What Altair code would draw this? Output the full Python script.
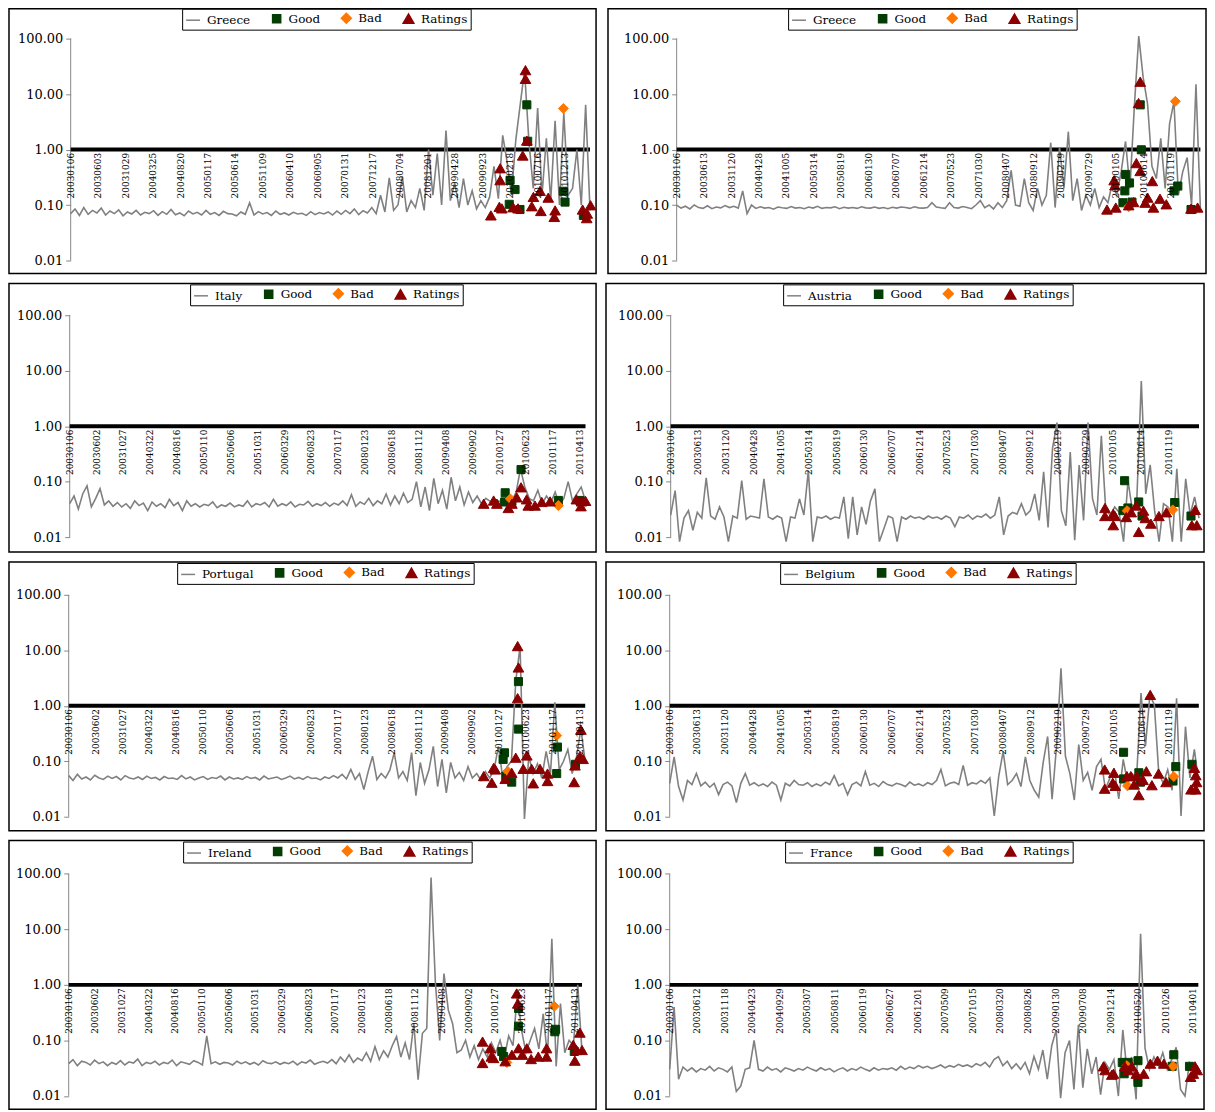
import altair as alt
import numpy as np
import pandas as pd

# ---------------- tick labels (dates) ----------------
LBL_GR1 = ["20030106","20030603","20031029","20040325","20040820","20050117","20050614",
           "20051109","20060410","20060905","20070131","20071217","20080704","20081201",
           "20090428","20090923","20100218","20100716","20101213"]
LBL_B = ["20030106","20030613","20031120","20040428","20041005","20050314","20050819",
         "20060130","20060707","20061214","20070523","20071030","20080407","20080912",
         "20090219","20090729","20100105","20100614","20101119"]
LBL_C = ["20030106","20030602","20031027","20040322","20040816","20050110","20050606",
         "20051031","20060329","20060823","20070117","20080123","20080618","20081112",
         "20090408","20090902","20100127","20100623","20101117","20110413"]
LBL_FR = ["20030106","20030612","20031118","20040423","20040929","20050307","20050811",
          "20060119","20060627","20061201","20070509","20071015","20080320","20080826",
          "20090130","20090708","20091214","20100520","20101026","20110401"]

# ---------------- series values ----------------
GR1_SERIES = [
0.07,0.085,0.065,0.09,0.068,0.08,0.072,0.088,0.066,0.078,
0.07,0.082,0.064,0.075,0.069,0.08,0.066,0.074,0.07,0.079,
0.065,0.076,0.068,0.083,0.067,0.072,0.064,0.078,0.069,0.074,
0.066,0.08,0.068,0.073,0.065,0.077,0.07,0.069,0.064,0.075,
0.068,0.11,0.066,0.076,0.069,0.073,0.065,0.078,0.068,0.072,
0.066,0.074,0.069,0.071,0.065,0.076,0.067,0.073,0.069,0.075,
0.066,0.078,0.068,0.08,0.07,0.085,0.067,0.079,0.072,0.09,
0.07,0.15,0.075,0.31,0.08,0.1,0.33,0.075,0.12,0.09,
0.2,0.08,1.0,0.15,0.85,0.1,2.2,0.12,0.25,0.09,
0.3,0.1,0.18,0.085,0.12,0.09,0.14,0.5,0.13,1.8,
0.6,0.15,1.5,6.4,27,1.4,0.2,5.6,0.15,1.6,
0.12,3.3,0.1,4.6,0.15,0.2,1.0,0.1,6.4,0.08]

GR2_SERIES = [
0.1,0.088,0.095,0.085,0.1,0.09,0.087,0.097,0.086,0.092,
0.089,0.098,0.09,0.095,0.088,0.18,0.07,0.1,0.087,0.093,
0.088,0.09,0.084,0.092,0.089,0.087,0.094,0.088,0.09,0.086,
0.092,0.088,0.095,0.087,0.09,0.089,0.093,0.086,0.091,0.088,
0.09,0.087,0.093,0.089,0.088,0.092,0.087,0.09,0.086,0.091,
0.088,0.092,0.09,0.087,0.093,0.089,0.088,0.09,0.11,0.092,
0.089,0.087,0.11,0.09,0.088,0.094,0.09,0.086,0.1,0.12,
0.09,0.1,0.085,0.11,0.09,0.12,0.42,0.1,0.095,0.3,
0.11,0.08,0.2,0.1,0.15,1.33,0.09,1.1,0.2,2.1,
0.12,0.3,0.08,0.15,0.1,0.2,0.09,0.14,0.11,0.25,
0.15,0.4,1.4,0.2,6,111,20,6.7,0.5,0.3,
1.6,0.2,2.9,7.3,0.15,0.4,0.72,0.1,15,0.09]

IT_SERIES = [
0.04,0.055,0.032,0.06,0.084,0.035,0.05,0.075,0.038,0.045,
0.036,0.042,0.035,0.04,0.033,0.045,0.037,0.041,0.03,0.043,
0.036,0.04,0.034,0.048,0.037,0.042,0.03,0.045,0.036,0.04,
0.035,0.039,0.037,0.043,0.034,0.038,0.036,0.041,0.035,0.038,
0.036,0.045,0.035,0.04,0.038,0.042,0.035,0.048,0.036,0.04,
0.037,0.043,0.035,0.039,0.038,0.044,0.036,0.04,0.037,0.042,
0.036,0.041,0.038,0.045,0.037,0.058,0.036,0.043,0.039,0.05,
0.037,0.045,0.04,0.06,0.038,0.055,0.04,0.062,0.042,0.048,
0.1,0.035,0.08,0.03,0.115,0.04,0.07,0.032,0.12,0.045,
0.08,0.038,0.065,0.042,0.055,0.04,0.05,0.044,0.048,0.045,
0.04,0.06,0.045,0.065,0.17,0.08,0.05,0.045,0.07,0.04,
0.055,0.042,0.065,0.038,0.05,0.1,0.045,0.06,0.08,0.045]

AT_SERIES = [
0.025,0.069,0.0083,0.022,0.03,0.0133,0.028,0.022,0.117,0.024,
0.021,0.035,0.023,0.0083,0.024,0.022,0.104,0.021,0.024,0.023,
0.022,0.112,0.023,0.021,0.024,0.022,0.0083,0.023,0.022,0.049,
0.025,0.158,0.0083,0.023,0.022,0.024,0.021,0.023,0.022,0.053,
0.0094,0.053,0.011,0.035,0.017,0.045,0.074,0.0083,0.014,0.024,
0.022,0.0083,0.023,0.021,0.024,0.022,0.023,0.021,0.024,0.022,
0.023,0.021,0.024,0.022,0.0154,0.023,0.022,0.025,0.021,0.024,
0.023,0.026,0.022,0.025,0.053,0.011,0.024,0.028,0.026,0.04,
0.025,0.03,0.06,0.02,0.15,0.015,0.4,1.16,0.03,0.016,
0.34,0.0088,0.2,0.02,1.16,0.05,0.025,0.67,0.03,0.025,
0.035,0.028,0.0083,0.104,0.03,0.05,6.5,0.06,0.2,0.03,
0.0083,0.04,0.035,0.0083,0.17,0.0083,0.112,0.025,0.053,0.022]

PT_SERIES = [
0.055,0.045,0.058,0.048,0.052,0.046,0.056,0.05,0.047,0.054,
0.049,0.053,0.046,0.055,0.05,0.048,0.052,0.047,0.054,0.049,
0.051,0.046,0.053,0.049,0.05,0.047,0.055,0.048,0.052,0.046,
0.05,0.053,0.047,0.051,0.049,0.054,0.046,0.052,0.048,0.05,
0.047,0.053,0.049,0.051,0.046,0.054,0.048,0.05,0.052,0.047,
0.05,0.054,0.048,0.051,0.047,0.053,0.049,0.05,0.046,0.052,
0.049,0.055,0.05,0.058,0.048,0.071,0.047,0.06,0.031,0.065,
0.123,0.047,0.06,0.05,0.07,0.143,0.05,0.065,0.045,0.143,
0.024,0.095,0.04,0.07,0.186,0.035,0.108,0.027,0.095,0.05,
0.063,0.045,0.08,0.05,0.06,0.045,0.065,0.05,0.07,0.186,
0.05,0.08,0.1,2.8,11.9,0.0091,0.123,0.06,0.09,0.05,
0.15,0.06,1.15,0.07,0.1,0.163,0.06,0.12,0.38,0.1]

BE_SERIES = [
0.04,0.12,0.035,0.02,0.045,0.038,0.06,0.036,0.042,0.034,
0.04,0.025,0.038,0.042,0.036,0.018,0.04,0.06,0.037,0.041,
0.036,0.039,0.035,0.042,0.037,0.02,0.04,0.036,0.045,0.038,
0.037,0.041,0.035,0.039,0.036,0.042,0.038,0.055,0.036,0.04,
0.025,0.038,0.042,0.036,0.065,0.037,0.04,0.035,0.043,0.038,
0.036,0.04,0.038,0.035,0.042,0.037,0.039,0.036,0.041,0.038,
0.045,0.071,0.036,0.04,0.042,0.038,0.084,0.037,0.041,0.039,
0.045,0.04,0.05,0.0103,0.054,0.15,0.038,0.045,0.06,0.035,
0.12,0.045,0.03,0.0225,0.095,0.28,0.0206,0.186,4.75,0.123,
0.06,0.02,0.2,0.045,0.063,0.03,0.08,0.108,0.031,0.05,
0.07,0.021,0.108,0.04,0.06,0.05,1.69,0.186,1.57,1.04,
0.06,0.04,0.07,0.03,1.37,0.0103,0.42,0.05,0.163,0.04]

IE_SERIES = [
0.038,0.045,0.035,0.042,0.04,0.036,0.044,0.038,0.041,0.035,
0.04,0.037,0.043,0.036,0.041,0.039,0.046,0.035,0.04,0.038,
0.042,0.036,0.04,0.038,0.044,0.035,0.041,0.039,0.037,0.043,
0.04,0.036,0.12,0.038,0.041,0.037,0.04,0.039,0.036,0.042,
0.038,0.041,0.037,0.04,0.036,0.043,0.039,0.038,0.041,0.037,
0.04,0.038,0.042,0.036,0.041,0.039,0.044,0.037,0.04,0.042,
0.039,0.045,0.038,0.05,0.041,0.055,0.04,0.048,0.043,0.06,
0.042,0.077,0.045,0.065,0.05,0.08,0.117,0.05,0.09,0.045,
0.2,0.0195,0.134,0.164,86,1.13,0.1,1.6,0.35,0.2,
0.06,0.067,0.1,0.05,0.08,0.045,0.07,0.05,0.09,0.06,
0.1,0.05,0.12,0.08,0.7,0.15,0.06,0.1,0.164,0.07,
0.3,0.05,6.8,0.034,0.46,0.06,0.1,0.08,1.0,0.06]

FR_SERIES = [
0.03,0.4,0.02,0.033,0.028,0.032,0.027,0.031,0.029,0.034,
0.028,0.032,0.03,0.027,0.033,0.012,0.015,0.03,0.032,0.1,
0.03,0.028,0.033,0.029,0.031,0.027,0.032,0.03,0.028,0.031,
0.029,0.033,0.03,0.028,0.032,0.029,0.031,0.027,0.03,0.032,
0.028,0.031,0.029,0.033,0.03,0.028,0.032,0.029,0.031,0.03,
0.032,0.029,0.034,0.03,0.033,0.031,0.035,0.032,0.034,0.031,
0.033,0.036,0.032,0.035,0.033,0.037,0.034,0.036,0.033,0.038,
0.035,0.04,0.033,0.045,0.051,0.035,0.042,0.031,0.038,0.03,
0.04,0.025,0.051,0.03,0.067,0.02,0.08,0.154,0.0091,0.06,
0.099,0.013,0.19,0.014,0.07,0.025,0.05,0.0105,0.04,0.03,
0.045,0.0099,0.154,0.025,0.05,0.0086,8.3,0.072,0.03,0.05,
0.035,0.06,0.03,0.045,0.075,0.013,0.0099,0.04,0.035,0.03]

# ---------------- event markers: (position in label units, value) ----------------
GR1_GOOD = [(16.0,0.28),(16.18,0.19),(15.97,0.103),(16.36,0.083),(16.61,6.4),(16.64,1.41),
            (17.94,0.177),(18.0,0.113),(18.67,0.065)]
GR1_BAD = [(17.94,5.5)]
GR1_RAT = [(15.30,0.065),(15.64,0.46),(15.64,0.28),(15.61,0.093),(15.70,0.087),(16.11,0.091),
           (16.29,0.087),(16.46,0.78),(16.56,18.8),(16.56,27),(16.61,1.45),(16.85,0.14),
           (16.79,0.095),(17.09,0.18),(17.12,0.078),(17.39,0.136),(17.64,0.08),(17.61,0.061),
           (18.64,0.083),(18.81,0.07),(18.93,0.099),(18.79,0.058)]

GR2_GOOD = [(16.35,0.356),(16.49,0.25),(16.32,0.18),(16.25,0.11),(16.58,0.113),(16.88,6.4),
            (16.92,0.99),(18.11,0.18),(18.25,0.22),(18.73,0.083)]
GR2_BAD = [(18.16,7.4),(16.46,0.093)]
GR2_RAT = [(15.67,0.083),(15.99,0.09),(15.93,0.28),(15.96,0.227),(16.46,0.099),(16.64,0.113),
           (16.74,0.57),(16.88,0.41),(16.82,6.9),(16.88,16.7),(17.06,0.11),(17.15,0.136),
           (17.32,0.27),(17.36,0.09),(17.60,0.13),(17.83,0.103),(18.73,0.086),(18.97,0.09)]

IT_GOOD = [(16.21,0.063),(16.19,0.043),(16.80,0.165),(16.46,0.044),(18.19,0.0458),(18.99,0.0458)]
IT_BAD = [(16.40,0.049),(18.19,0.037)]
IT_RAT = [(15.41,0.04),(15.78,0.0457),(15.90,0.04),(16.33,0.0335),(16.46,0.04),(16.64,0.052),
          (16.80,0.079),(17.01,0.048),(17.07,0.037),(17.32,0.037),(17.57,0.043),(17.88,0.044),
          (18.86,0.048),(19.05,0.044),(19.20,0.045),(19.03,0.036)]

AT_GOOD = [(16.35,0.030),(16.41,0.104),(16.53,0.0335),(16.92,0.043),(17.04,0.024),(18.22,0.042),
           (18.81,0.024)]
AT_BAD = [(16.50,0.030),(18.15,0.031)]
AT_RAT = [(15.70,0.0335),(15.70,0.024),(16.0,0.0263),(16.06,0.024),(16.0,0.0164),(16.47,0.023),
          (16.65,0.028),(16.83,0.037),(16.92,0.0124),(17.09,0.030),(17.16,0.022),(17.36,0.0175),
          (17.65,0.024),(17.92,0.028),(18.96,0.031),(18.84,0.0164),(19.02,0.0164)]

PT_GOOD = [(16.19,0.142),(16.14,0.108),(16.24,0.054),(16.46,0.042),(16.71,2.73),(16.71,0.38),
           (18.16,0.18),(18.13,0.06),(18.83,0.088)]
PT_BAD = [(16.31,0.066),(18.13,0.29)]
PT_RAT = [(15.42,0.054),(15.72,0.041),(15.79,0.076),(15.85,0.071),(16.22,0.048),(16.46,0.062),
          (16.61,0.116),(16.68,1.37),(16.71,4.9),(16.68,11.9),(16.89,0.073),(17.02,0.127),
          (17.20,0.073),(17.26,0.04),(17.51,0.073),(17.79,0.06),(17.79,0.044),(18.81,0.084),
          (18.78,0.042),(19.03,0.37),(18.99,0.123),(19.11,0.11)]

BE_GOOD = [(16.35,0.145),(16.35,0.048),(16.90,0.062),(16.96,0.042),(18.23,0.08),(18.13,0.044),
           (18.81,0.088)]
BE_BAD = [(16.49,0.036),(18.16,0.053)]
BE_RAT = [(15.67,0.071),(15.67,0.032),(16.0,0.062),(15.96,0.041),(16.05,0.036),(16.47,0.054),
          (16.61,0.054),(16.73,0.038),(16.82,0.054),(16.90,0.0245),(17.05,0.046),(17.17,0.066),
          (17.31,1.57),(17.37,0.037),(17.61,0.06),(17.88,0.042),(18.90,0.076),(18.95,0.056),
          (18.98,0.042),(18.78,0.031),(18.95,0.031)]

IE_GOOD = [(16.24,0.063),(16.31,0.051),(16.87,0.376),(16.87,0.18),(18.26,0.158),(18.23,0.143),
           (18.96,0.063)]
IE_BAD = [(16.43,0.040),(18.21,0.41)]
IE_RAT = [(15.52,0.095),(15.52,0.039),(15.81,0.072),(15.85,0.051),(15.93,0.048),(16.37,0.042),
          (16.62,0.055),(16.80,0.70),(16.84,0.46),(16.87,0.072),(17.01,0.055),(17.18,0.072),
          (17.34,0.046),(17.61,0.051),(17.92,0.072),(17.92,0.051),(18.92,0.083),(18.98,0.043),
          (19.17,0.138),(19.25,0.067),(19.04,0.067)]

FR_GOOD = [(16.42,0.040),(16.49,0.025),(16.63,0.040),(16.99,0.043),(16.99,0.0175),(18.29,0.055),
           (18.23,0.034),(18.86,0.034)]
FR_BAD = [(16.59,0.035),(18.26,0.034)]
FR_RAT = [(15.74,0.034),(15.80,0.029),(16.10,0.025),(16.04,0.024),(16.51,0.034),(16.63,0.029),
          (16.77,0.034),(16.93,0.025),(17.20,0.025),(17.44,0.038),(17.70,0.043),(17.93,0.038),
          (18.90,0.022),(19.06,0.034),(19.14,0.029),(19.0,0.025)]

# ---------------- styling ----------------
LINE_C = "#808080"
GOOD_C = "#033d03"
BAD_C = "#ff7700"
RAT_C = "#8b0000"
FONT = "DejaVu Serif"
DECADE = 55.75  # pixels per decade on the log axis


def panel(name, series, labels, good, bad, rat, E, W, x0, step, legx, H, top, legy):
    n = len(series)
    line_df = pd.DataFrame({"pos": np.linspace(0, E, n), "val": series, "series": name})
    rows = []
    for kind, pts in (("Good", good), ("Bad", bad), ("Ratings", rat)):
        for p, v in pts:
            rows.append({"pos": p, "val": v, "series": kind})
    pts_df = pd.DataFrame(rows)
    lab_df = pd.DataFrame({"pos": list(range(len(labels))), "val": 0.87, "txt": labels})
    one_df = pd.DataFrame({"pos": [0.0], "pos2": [E], "val": [1.0]})
    yax_df = pd.DataFrame({"pos": [0.0], "val": [0.01], "val2": [100.0]})

    hi = 2 + top / DECADE
    lo = hi - H / DECADE
    dom = [name, "Good", "Bad", "Ratings"]
    xs = alt.Scale(domain=[-x0 / step, (W - x0) / step], nice=False, zero=False)
    ys = alt.Scale(type="log", domain=[10 ** lo, 10 ** hi], nice=False)
    yaxis = alt.Axis(values=[0.01, 0.1, 1, 10, 100], format=".2f", offset=-x0, domain=False,
                     grid=False, ticks=True, tickColor="#868686", tickSize=5, labelPadding=3,
                     labelFont=FONT, labelFontSize=13, labelColor="black", title=None,
                     labelFlush=False)
    leg = alt.Legend(orient="none", legendX=legx, legendY=legy, direction="horizontal",
                     title=None, strokeColor="black", fillColor="white", padding=3,
                     labelFont=FONT, labelFontSize=12, labelColor="black", columnPadding=18,
                     labelOffset=6, symbolStrokeWidth=1.5, cornerRadius=0)
    stroke_s = alt.Scale(domain=dom, range=[LINE_C, GOOD_C, BAD_C, RAT_C])
    fill_s = alt.Scale(domain=dom, range=[LINE_C, GOOD_C, BAD_C, RAT_C])
    shape_s = alt.Scale(domain=dom, range=["stroke", "square", "diamond", "triangle-up"])
    size_s = alt.Scale(type="ordinal", domain=dom, range=[196, 66, 100, 115])

    X = alt.X("pos:Q", scale=xs, axis=None)
    Y = alt.Y("val:Q", scale=ys, axis=yaxis)

    yline = alt.Chart(yax_df).mark_rule(color="#868686", strokeWidth=1).encode(
        x=X, y=Y, y2="val2:Q")
    one = alt.Chart(one_df).mark_rule(color="black", strokeWidth=4).encode(
        x=X, x2="pos2:Q", y=Y)
    line = alt.Chart(line_df).mark_line(strokeWidth=1.6).encode(
        x=X, y=Y, stroke=alt.Stroke("series:N", scale=stroke_s, legend=leg))
    pts = alt.Chart(pts_df).mark_point(filled=True, opacity=1, strokeWidth=1).encode(
        x=X, y=Y,
        fill=alt.Fill("series:N", scale=fill_s, legend=leg),
        stroke=alt.Stroke("series:N", scale=stroke_s, legend=leg),
        shape=alt.Shape("series:N", scale=shape_s, legend=leg),
        size=alt.Size("series:N", scale=size_s, legend=leg),
    )
    txt = alt.Chart(lab_df).mark_text(angle=270, align="right", baseline="middle", font=FONT,
                                      fontSize=9, color="black").encode(
        x=X, y=Y, text="txt:N")
    return alt.layer(yline, one, line, pts, txt).properties(width=W, height=H)


LW, RW = 590, 601
R1 = dict(H=266, top=30, legy=0)
R2 = dict(H=270, top=32, legy=1)
R3 = dict(H=270, top=33, legy=1)
R4 = dict(H=270, top=33.5, legy=1)
p1 = panel("Greece", GR1_SERIES, LBL_GR1, GR1_GOOD, GR1_BAD, GR1_RAT, 18.91, LW, 62, 27.6, 174, **R1)
p2 = panel("Greece", GR2_SERIES, LBL_B, GR2_GOOD, GR2_BAD, GR2_RAT, 19.07, RW, 69, 27.6, 181, **R1)
p3 = panel("Italy", IT_SERIES, LBL_C, IT_GOOD, IT_BAD, IT_RAT, 19.2, LW, 61, 27.0, 182, **R2)
p4 = panel("Austria", AT_SERIES, LBL_B, AT_GOOD, AT_BAD, AT_RAT, 19.1, RW, 65, 27.8, 178, **R2)
p5 = panel("Portugal", PT_SERIES, LBL_C, PT_GOOD, PT_BAD, PT_RAT, 19.19, LW, 60, 27.05, 169, **R3)
p6 = panel("Belgium", BE_SERIES, LBL_B, BE_GOOD, BE_BAD, BE_RAT, 19.06, RW, 64, 27.9, 175, **R3)
p7 = panel("Ireland", IE_SERIES, LBL_C, IE_GOOD, IE_BAD, IE_RAT, 19.25, LW, 60, 26.8, 175, **R4)
p8 = panel("France", FR_SERIES, LBL_FR, FR_GOOD, FR_BAD, FR_RAT, 19.18, RW, 64, 27.7, 180, **R4)

IND = dict(x="independent", y="independent", fill="independent", stroke="independent",
           shape="independent", size="independent")
LIND = dict(fill="independent", stroke="independent", shape="independent", size="independent")


def row(a, b):
    return alt.hconcat(a, b, spacing=8).resolve_scale(**IND).resolve_legend(**LIND)


chart = alt.vconcat(row(p1, p2), row(p3, p4), row(p5, p6), row(p7, p8), spacing=8)
chart = chart.resolve_scale(**IND).resolve_legend(**LIND).properties(
    padding={"left": 0, "top": -4, "right": 0, "bottom": 0}, background="white")
chart = chart.configure_view(stroke="#000000", strokeWidth=1.5)

chart.save("out.html", embed_options={"renderer": "svg", "actions": False})
